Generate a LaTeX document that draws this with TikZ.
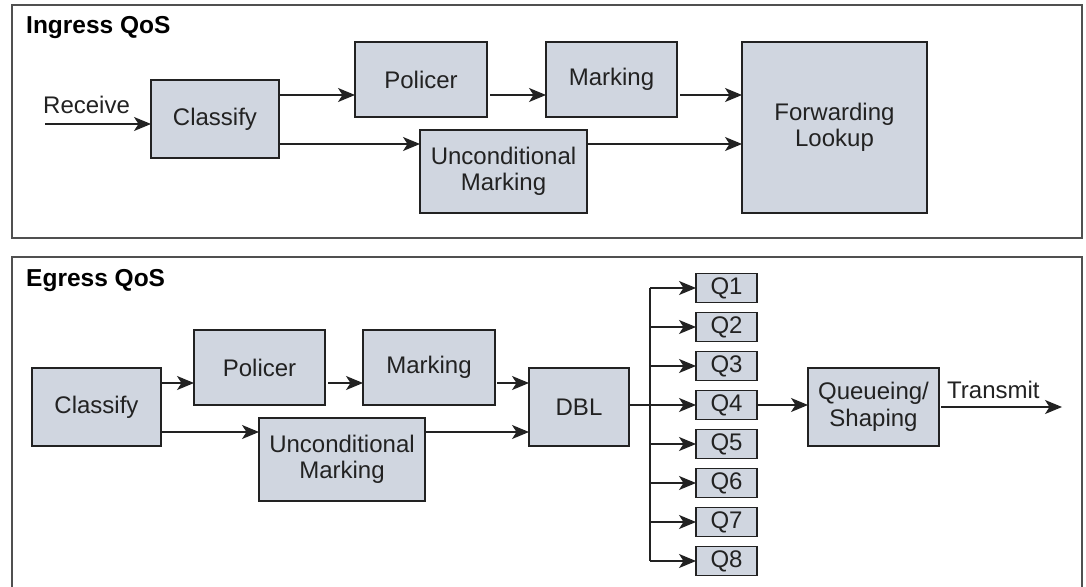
\documentclass[tikz,border=0pt]{standalone}
\usepackage{fontspec}
\setmainfont{Liberation Sans}
\usetikzlibrary{arrows.meta}
\definecolor{boxfill}{HTML}{D0D6E0}
\definecolor{ink}{HTML}{222222}
\definecolor{frame}{HTML}{505050}
\begin{document}
\begin{tikzpicture}[x=1pt,y=-1pt,
  font=\fontsize{24}{26.5}\selectfont,
  box/.style={draw=ink, fill=boxfill, line width=1.2pt, inner sep=0pt, outer sep=0pt, align=center, text=ink},
  arr/.style={draw=ink, line width=1.5pt, -{Stealth[length=17pt,width=14pt,inset=4.5pt]}},
  plain/.style={draw=ink, line width=1.5pt},
  panel/.style={draw=frame, line width=1.3pt},
  title/.style={font=\fontsize{24.5}{27}\selectfont\bfseries, anchor=base west, inner sep=0pt, text=black},
  lbl/.style={anchor=base west, inner sep=0pt, text=ink}]
\path[use as bounding box] (0,0) rectangle (1086,586);
\fill[white] (0,0) rectangle (1086,586);

% ---------- Ingress panel ----------
\draw[panel] (12,5) rectangle (1082,238);
\node[title] (ttl1) at (26,34) {Ingress QoS};

\node[box, minimum width=128pt, minimum height=78pt] (cls1) at (215,119) {Classify};
\node[box, minimum width=132pt, minimum height=75pt] (pol1) at (421,79.5) {Policer};
\node[box, minimum width=131pt, minimum height=75pt] (mrk1) at (611.5,79.5) {Marking};
\node[box, minimum width=167pt, minimum height=83pt] (unc1) at (503.5,171.5) {Unconditional\\Marking};
\node[box, minimum width=185pt, minimum height=171pt] (fwd) at (834.5,127.5) {Forwarding\\Lookup};

\coordinate (rcv) at (45,124);
\node[lbl] (rcvl) at (43,113) {Receive};
\draw[arr] (rcv) -- (cls1.west |- rcv);
\draw[arr] (cls1.east |- 0,95) -- (pol1.west |- 0,95);
\draw[arr, shorten <=3pt] (pol1.east |- 0,95) -- (mrk1.west |- 0,95);
\draw[arr, shorten <=3pt] (mrk1.east |- 0,95) -- (fwd.west |- 0,95);
\draw[arr] (cls1.east |- 0,144) -- (unc1.west |- 0,144);
\draw[arr] (unc1.east |- 0,144) -- (fwd.west |- 0,144);

% ---------- Egress panel ----------
\draw[panel] (12,587) -- (12,257) -- (1082,257) -- (1082,587);
\node[title] (ttl2) at (26,286) {Egress QoS};

\node[box, minimum width=129pt, minimum height=78pt] (cls2) at (96.5,407) {Classify};
\node[box, minimum width=131pt, minimum height=75pt] (pol2) at (259.5,367.5) {Policer};
\node[box, minimum width=132pt, minimum height=75pt] (mrk2) at (429,367.5) {Marking};
\node[box, minimum width=166pt, minimum height=83pt] (unc2) at (342,459.5) {Unconditional\\Marking};
\node[box, minimum width=100pt, minimum height=78pt] (dbl) at (579,407) {DBL};
\node[box, minimum width=131pt, minimum height=78pt] (que) at (873.5,407) {Queueing/\\Shaping};

\foreach \i in {1,...,8} {
  \node[box, minimum width=61pt, minimum height=29pt] (q\i) at (726.5,{405+39*(\i-4)}) {Q\i};
}

\draw[arr] (cls2.east |- 0,383) -- (pol2.west |- 0,383);
\draw[arr, shorten <=3pt] (pol2.east |- 0,383) -- (mrk2.west |- 0,383);
\draw[arr, shorten <=2pt] (mrk2.east |- 0,383) -- (dbl.west |- 0,383);
\draw[arr] (cls2.east |- 0,432) -- (unc2.west |- 0,432);
\draw[arr] (unc2.east |- 0,432) -- (dbl.west |- 0,432);

\coordinate (bus) at (650,0);
\draw[plain] (bus |- q1) -- (bus |- q8);
\draw[arr] (dbl.east |- q4) -- (q4.west);
\foreach \i in {1,2,3,5,6,7,8} {
  \draw[arr] (bus |- q\i) -- (q\i.west);
}
\draw[arr] (q4.east) -- (que.west |- q4);

\coordinate (tx) at (1062,407);
\draw[arr, shorten <=2pt] (que.east |- tx) -- (tx);
\node[lbl] (txl) at (947,398) {Transmit};
\end{tikzpicture}
\end{document}
